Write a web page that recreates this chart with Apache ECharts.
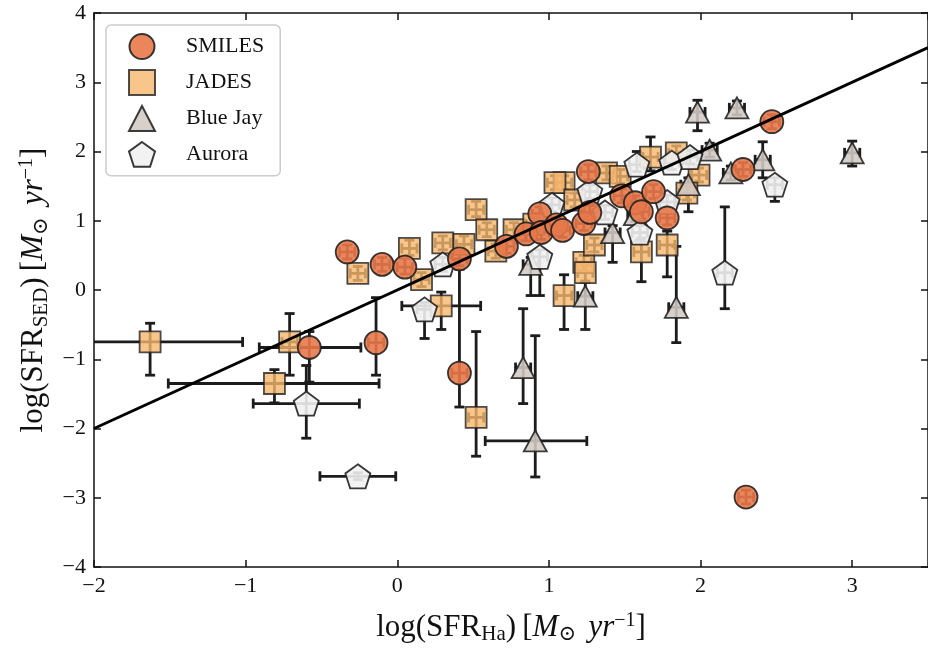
<!DOCTYPE html>
<html>
<head>
<meta charset="utf-8">
<script src="https://cdn.jsdelivr.net/npm/echarts@6/dist/echarts.min.js"></script>
<style>html,body{margin:0;padding:0;background:#fff}#c{width:928px;height:650px}</style>
</head>
<body>
<div id="c"></div>
<script>
// rows: [x, y, xErrMinus, xErrPlus, yErrMinus, yErrPlus]
const SMILES = [
  [-0.33, 0.55, 0.05, 0.05, 0.10, 0.10],
  [-0.10, 0.37, 0.05, 0.05, 0.10, 0.10],
  [0.05, 0.33, 0.05, 0.05, 0.10, 0.15],
  [0.41, 0.45, 0.05, 0.05, 0.10, 0.10],
  [0.41, -1.20, 0.05, 0.05, 0.49, 1.50],
  [-0.14, -0.76, 0.05, 0.05, 0.47, 0.65],
  [-0.58, -0.83, 0.33, 0.34, 0.50, 0.23],
  [0.72, 0.63, 0.05, 0.05, 0.10, 0.10],
  [0.85, 0.81, 0.05, 0.05, 0.10, 0.10],
  [0.94, 1.10, 0.05, 0.05, 0.10, 0.10],
  [0.95, 0.83, 0.05, 0.05, 0.10, 0.10],
  [1.05, 0.94, 0.05, 0.05, 0.10, 0.10],
  [1.09, 0.86, 0.05, 0.05, 0.10, 0.10],
  [1.23, 0.96, 0.05, 0.05, 0.10, 0.10],
  [1.26, 1.71, 0.05, 0.05, 0.12, 0.10],
  [1.27, 1.12, 0.05, 0.05, 0.10, 0.10],
  [1.48, 1.36, 0.05, 0.05, 0.10, 0.10],
  [1.57, 1.26, 0.05, 0.05, 0.10, 0.10],
  [1.61, 1.13, 0.05, 0.05, 0.10, 0.10],
  [1.69, 1.42, 0.05, 0.05, 0.10, 0.10],
  [1.78, 1.04, 0.05, 0.05, 0.10, 0.10],
  [2.28, 1.74, 0.05, 0.05, 0.10, 0.10],
  [2.47, 2.43, 0.05, 0.05, 0.10, 0.10],
  [2.30, -2.99, 0.05, 0.05, 0.10, 0.10]
];
const JADES = [
  [-1.63, -0.75, 0.60, 0.61, 0.48, 0.27],
  [-0.71, -0.75, 0.05, 0.05, 0.48, 0.41],
  [-0.81, -1.35, 0.70, 0.69, 0.28, 0.20],
  [-0.26, 0.24, 0.05, 0.05, 0.10, 0.10],
  [0.08, 0.60, 0.05, 0.05, 0.10, 0.12],
  [0.16, 0.15, 0.05, 0.05, 0.10, 0.10],
  [0.30, 0.68, 0.05, 0.05, 0.10, 0.10],
  [0.29, -0.23, 0.26, 0.26, 0.34, 0.20],
  [0.52, 1.16, 0.05, 0.05, 0.10, 0.12],
  [0.59, 0.87, 0.05, 0.05, 0.10, 0.10],
  [0.44, 0.66, 0.05, 0.05, 0.10, 0.12],
  [0.65, 0.56, 0.05, 0.05, 0.10, 0.10],
  [0.77, 0.87, 0.05, 0.05, 0.10, 0.10],
  [0.52, -1.84, 0.05, 0.05, 0.56, 1.24],
  [1.10, -0.08, 0.05, 0.05, 0.49, 0.30],
  [1.10, 1.55, 0.05, 0.05, 0.10, 0.10],
  [1.04, 1.55, 0.05, 0.05, 0.10, 0.10],
  [1.17, 1.30, 0.05, 0.05, 0.10, 0.10],
  [1.23, 0.40, 0.05, 0.05, 0.12, 0.10],
  [1.24, 0.25, 0.05, 0.05, 0.12, 0.10],
  [1.67, 1.92, 0.05, 0.05, 0.20, 0.29],
  [1.84, 1.98, 0.05, 0.05, 0.10, 0.10],
  [1.99, 1.66, 0.05, 0.05, 0.10, 0.10],
  [1.91, 1.40, 0.05, 0.05, 0.10, 0.10],
  [1.38, 1.69, 0.05, 0.05, 0.10, 0.10],
  [1.47, 1.64, 0.05, 0.05, 0.10, 0.10],
  [1.61, 0.55, 0.05, 0.05, 0.43, 0.20],
  [1.78, 0.65, 0.05, 0.05, 0.46, 0.20],
  [1.30, 0.65, 0.05, 0.05, 0.10, 0.10],
  [0.90, 0.95, 0.05, 0.05, 0.10, 0.10]
];
const BLUEJAY = [
  [1.98, 2.57, 0.05, 0.05, 0.27, 0.17],
  [2.24, 2.63, 0.05, 0.05, 0.10, 0.10],
  [2.06, 2.02, 0.05, 0.05, 0.10, 0.10],
  [2.41, 1.88, 0.05, 0.05, 0.26, 0.26],
  [2.20, 1.69, 0.05, 0.05, 0.10, 0.10],
  [3.00, 1.98, 0.05, 0.05, 0.19, 0.17],
  [1.92, 1.52, 0.05, 0.05, 0.39, 0.10],
  [1.42, 0.83, 0.05, 0.05, 0.43, 0.10],
  [1.84, -0.25, 0.05, 0.05, 0.51, 0.88],
  [1.24, -0.09, 0.05, 0.05, 0.48, 0.20],
  [0.88, 0.37, 0.05, 0.05, 0.45, 0.10],
  [0.83, -1.12, 0.05, 0.05, 0.52, 0.85],
  [0.91, -2.18, 0.33, 0.34, 0.52, 1.52],
  [1.57, 1.09, 0.05, 0.05, 0.10, 0.10]
];
const AURORA = [
  [-0.60, -1.64, 0.35, 0.35, 0.50, 0.55],
  [-0.26, -2.69, 0.25, 0.25, 0.05, 0.05],
  [0.18, -0.28, 0.05, 0.05, 0.42, 0.10],
  [0.30, 0.37, 0.05, 0.05, 0.10, 0.10],
  [0.94, 0.48, 0.05, 0.05, 0.56, 0.10],
  [1.02, 1.23, 0.05, 0.05, 0.10, 0.10],
  [1.27, 1.42, 0.05, 0.05, 0.10, 0.10],
  [1.58, 1.81, 0.05, 0.05, 0.10, 0.19],
  [1.81, 1.84, 0.05, 0.05, 0.10, 0.10],
  [1.93, 1.92, 0.05, 0.05, 0.10, 0.10],
  [1.60, 0.83, 0.05, 0.05, 0.10, 0.10],
  [1.78, 1.27, 0.05, 0.05, 0.10, 0.10],
  [1.37, 1.12, 0.05, 0.05, 0.10, 0.10],
  [2.16, 0.25, 0.05, 0.05, 0.52, 0.95],
  [2.49, 1.52, 0.05, 0.05, 0.24, 0.10]
];
const ONE_TO_ONE = [[-2, -2], [3.5, 3.5]];
const X_TICKS = [-2, -1, 0, 1, 2, 3];
const Y_TICKS = [-4, -3, -2, -1, 0, 1, 2, 3, 4];

const FONT = '"Liberation Serif", "DejaVu Serif", serif';
const EDGE = '#222222';
const PENTAGON = 'path://M0,-1 L0.951,-0.309 L0.588,0.809 L-0.588,0.809 L-0.951,-0.309 Z';

function fmt(v) { return v < 0 ? '\u2212' + Math.abs(v) : String(v); }

function errRender(params, api) {
  const x = api.value(0), y = api.value(1);
  const xm = api.value(2), xp = api.value(3), ym = api.value(4), yp = api.value(5);
  const c = api.coord([x, y]);
  const l = api.coord([x - xm, y]), r = api.coord([x + xp, y]);
  const b = api.coord([x, y - ym]), t = api.coord([x, y + yp]);
  const cap = 5;
  const st = { stroke: '#1c1c1c', lineWidth: 2.8 };
  return {
    type: 'group',
    children: [
      { type: 'line', shape: { x1: l[0], y1: c[1], x2: r[0], y2: c[1] }, style: st },
      { type: 'line', shape: { x1: c[0], y1: t[1], x2: c[0], y2: b[1] }, style: st },
      { type: 'line', shape: { x1: l[0], y1: c[1] - cap, x2: l[0], y2: c[1] + cap }, style: st },
      { type: 'line', shape: { x1: r[0], y1: c[1] - cap, x2: r[0], y2: c[1] + cap }, style: st },
      { type: 'line', shape: { x1: c[0] - cap, y1: t[1], x2: c[0] + cap, y2: t[1] }, style: st },
      { type: 'line', shape: { x1: c[0] - cap, y1: b[1], x2: c[0] + cap, y2: b[1] }, style: st }
    ]
  };
}

function errSeries(data) {
  return {
    type: 'custom', renderItem: errRender, data: data, clip: true,
    encode: { x: 0, y: 1 }, silent: true, legendHoverLink: false
  };
}
function scatter(name, data, symbol, size, color, opacity) {
  return {
    name: name, type: 'scatter', data: data.map(d => [d[0], d[1]]),
    symbol: symbol, symbolSize: size, clip: true,
    itemStyle: { color: color, opacity: opacity, borderColor: EDGE, borderWidth: 1.8 }
  };
}

const rich = {
  sub: { fontFamily: FONT, fontSize: 21, padding: [14, 0, 0, 0] },
  sup: { fontFamily: FONT, fontSize: 20, padding: [0, 0, 14, 0] },
  it: { fontFamily: FONT, fontSize: 31, fontStyle: 'italic' }
};

const chart = echarts.init(document.getElementById('c'), null, { renderer: 'canvas' });
chart.setOption({
  animation: false,
  backgroundColor: '#fff',
  grid: { left: 94, top: 13, width: 839, height: 555, containLabel: false },
  legend: {
    left: 106, top: 25, orient: 'vertical',
    data: ['SMILES', 'JADES', 'Blue Jay', 'Aurora'],
    itemWidth: 26, itemHeight: 25, itemGap: 9,
    padding: [8, 16, 8, 22],
    borderColor: '#cccccc', borderWidth: 1.5, borderRadius: 5,
    backgroundColor: 'rgba(255,255,255,0.8)',
    textStyle: { fontFamily: FONT, fontSize: 22, color: '#111', padding: [0, 0, 0, 26] }
  },
  xAxis: [{
    type: 'value', min: -2, max: 3.5, interval: 1,
    name: 'log(SFR{sub|Ha})\u2009[{it|M}{sub|\u2299}\u2009\u2009{it|yr}{sup|\u22121}]',
    nameLocation: 'middle', nameGap: 43,
    nameTextStyle: { fontFamily: FONT, fontSize: 31, color: '#111', rich: rich },
    axisLine: { onZero: false, lineStyle: { color: '#111', width: 1.5 } },
    axisTick: { inside: true, length: 7, lineStyle: { color: '#111', width: 1.5 } },
    axisLabel: { fontFamily: FONT, fontSize: 22, color: '#111', margin: 8, formatter: fmt, showMaxLabel: false },
    splitLine: { show: false }
  }, {
    type: 'value', position: 'top', min: -2, max: 3.5, interval: 1,
    axisLine: { onZero: false, lineStyle: { color: '#111', width: 1.5 } },
    axisTick: { inside: true, length: 7, lineStyle: { color: '#111', width: 1.5 } },
    axisLabel: { show: false }, splitLine: { show: false }
  }],
  yAxis: [{
    type: 'value', min: -4, max: 4, interval: 1,
    name: 'log(SFR{sub|SED})\u2009[{it|M}{sub|\u2299}\u2009\u2009{it|yr}{sup|\u22121}]',
    nameLocation: 'middle', nameGap: 34,
    nameTextStyle: { fontFamily: FONT, fontSize: 31, color: '#111', rich: rich },
    axisLine: { onZero: false, lineStyle: { color: '#111', width: 1.5 } },
    axisTick: { inside: true, length: 7, lineStyle: { color: '#111', width: 1.5 } },
    axisLabel: { fontFamily: FONT, fontSize: 22, color: '#111', margin: 8, formatter: fmt },
    splitLine: { show: false }
  }, {
    type: 'value', position: 'right', min: -4, max: 4, interval: 1,
    axisLine: { onZero: false, lineStyle: { color: '#111', width: 1.5 } },
    axisTick: { inside: true, length: 7, lineStyle: { color: '#111', width: 1.5 } },
    axisLabel: { show: false }, splitLine: { show: false }
  }],
  series: [
    errSeries(JADES),
    scatter('JADES', JADES, 'rect', [21, 21], '#F6B66E', 0.8),
    { type: 'line', data: ONE_TO_ONE, symbol: 'none', lineStyle: { color: '#000', width: 3 }, silent: true, clip: true },
    errSeries(BLUEJAY),
    scatter('Blue Jay', BLUEJAY, 'triangle', [23, 21], '#D3CAC4', 0.88),
    errSeries(AURORA),
    scatter('Aurora', AURORA, PENTAGON, [25, 24], '#F1F1F1', 0.9),
    errSeries(SMILES),
    scatter('SMILES', SMILES, 'circle', 23, '#E8784A', 0.9)
  ]
});
</script>
</body>
</html>
